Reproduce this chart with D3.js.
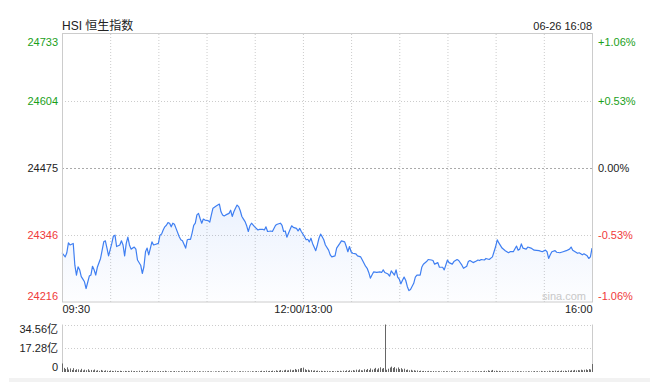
<!DOCTYPE html>
<html>
<head>
<meta charset="utf-8">
<script src="https://cdn.jsdelivr.net/npm/d3@7"></script>
<style>
  body { margin: 0; background: #fff; }
  svg { display: block; font-family: "Liberation Sans", Arial, "Noto Sans CJK SC", sans-serif; }
</style>
</head>
<body>
<svg id="chart" width="653" height="382"></svg>
<script>
// --- data ---
const title = 'HSI 恒生指数';
const stamp = '06-26 16:08';
const prevClose = 24475;
const priceTicks = [24733, 24604, 24475, 24346, 24216];
const pctTicks = ['+1.06%', '+0.53%', '0.00%', '-0.53%', '-1.06%'];
const timeTicks = [0, 150, 330];
const timeLabels = ['09:30', '12:00/13:00', '16:00'];
const gridMinutes = [30, 60, 90, 120, 150, 180, 210, 240, 270, 300];
const volTicks = [34.56, 17.28, 0];
const volTickLabels = ['34.56亿', '17.28亿', '0'];

// trading minute since 09:30 (lunch break removed) and index level
const minutes = [0, 2, 3, 4, 5, 7, 8, 9, 10, 11, 12, 13, 14, 15, 17, 18, 19, 20, 21, 22,
  24, 25, 26, 27, 28, 29, 31, 32, 33, 34, 36, 37, 38, 39, 40, 41, 42, 43, 45, 46,
  47, 49, 50, 51, 52, 53, 54, 56, 57, 58, 60, 61, 62, 63, 64, 65, 66, 67, 68, 69,
  70, 71, 73, 74, 75, 77, 78, 79, 80, 81, 82, 83, 84, 85, 86, 87, 88, 89, 91, 92,
  93, 94, 96, 97, 98, 99, 100, 101, 102, 104, 105, 106, 107, 108, 109, 110, 111, 112, 113, 114,
  115, 116, 117, 118, 120, 122, 123, 125, 126, 127, 128, 130, 131, 133, 134, 136, 137, 138, 139, 140,
  142, 143, 144, 146, 147, 148, 149, 151, 152, 153, 154, 155, 156, 158, 159, 160, 161, 162, 163, 164,
  166, 167, 168, 170, 171, 173, 174, 176, 177, 178, 179, 180, 181, 183, 184, 186, 187, 189, 190, 191,
  192, 193, 194, 196, 198, 199, 200, 201, 203, 204, 205, 207, 208, 209, 210, 211, 212, 213, 214, 215,
  216, 217, 219, 220, 221, 223, 224, 225, 227, 228, 230, 231, 232, 234, 235, 237, 238, 240, 241, 243,
  244, 246, 247, 249, 250, 252, 253, 254, 256, 258, 259, 260, 261, 263, 264, 266, 268, 269, 270, 271,
  272, 274, 276, 278, 279, 281, 283, 284, 285, 286, 287, 289, 290, 292, 294, 297, 299, 301, 302, 303,
  304, 305, 307, 308, 310, 312, 314, 316, 317, 318, 319, 321, 322, 324, 325, 327, 328, 329, 330];
const prices = [24311, 24303, 24311, 24330, 24326, 24329, 24287, 24268, 24284, 24278, 24265, 24260, 24255, 24242, 24266, 24268, 24285, 24278, 24268, 24283,
  24300, 24316, 24332, 24334, 24320, 24305, 24329, 24343, 24345, 24323, 24326, 24334, 24326, 24305, 24329, 24341, 24326, 24318, 24322, 24318,
  24297, 24287, 24271, 24284, 24313, 24320, 24307, 24332, 24326, 24327, 24329, 24345, 24347, 24355, 24361, 24364, 24369, 24368, 24361, 24368,
  24366, 24358, 24342, 24336, 24334, 24320, 24336, 24337, 24337, 24349, 24364, 24368, 24384, 24387, 24377, 24368, 24376, 24374, 24373, 24370,
  24384, 24397, 24401, 24403, 24405, 24390, 24384, 24382, 24384, 24387, 24393, 24381, 24390, 24397, 24403, 24400, 24392, 24381, 24376, 24371,
  24363, 24352, 24363, 24368, 24361, 24355, 24356, 24356, 24355, 24361, 24352, 24353, 24352, 24364, 24366, 24368, 24364, 24352, 24353, 24341,
  24356, 24363, 24360, 24358, 24353, 24358, 24352, 24342, 24336, 24337, 24332, 24339, 24329, 24315, 24326, 24339, 24347, 24342, 24336, 24326,
  24316, 24307, 24303, 24305, 24320, 24329, 24334, 24332, 24323, 24313, 24323, 24313, 24310, 24309, 24305, 24303, 24297, 24285, 24281, 24273,
  24262, 24268, 24274, 24273, 24274, 24273, 24278, 24273, 24270, 24266, 24276, 24268, 24278, 24264, 24260, 24251, 24258, 24264, 24258, 24246,
  24238, 24240, 24252, 24264, 24268, 24268, 24283, 24289, 24294, 24298, 24297, 24296, 24289, 24292, 24283, 24283, 24278, 24297, 24292, 24289,
  24294, 24298, 24296, 24287, 24281, 24285, 24294, 24296, 24292, 24295, 24297, 24296, 24298, 24297, 24300, 24298, 24303, 24313, 24323, 24336,
  24330, 24320, 24315, 24311, 24313, 24313, 24324, 24316, 24318, 24328, 24320, 24318, 24322, 24320, 24316, 24315, 24313, 24316, 24313, 24300,
  24307, 24313, 24315, 24312, 24311, 24313, 24315, 24318, 24322, 24316, 24314, 24310, 24311, 24307, 24309, 24305, 24300, 24303, 24320];

// per-minute turnover, 亿
const volumes = [
  6.2, 3.0, 2.2, 3.4, 1.8, 2.6, 1.5, 2.8, 1.4, 2.0,
  1.9, 1.2, 2.3, 1.1, 1.7, 1.3, 2.0, 1.0, 1.5, 1.2,
  1.8, 0.9, 1.3, 0.8, 1.5, 1.0, 0.8, 1.2, 0.9, 0.7,
  1.1, 0.8, 0.6, 1.0, 0.7, 0.6, 0.9, 0.7, 0.5, 0.8,
  0.6, 0.8, 0.5, 1.0, 0.5, 0.7, 0.6, 0.4, 0.9, 0.5,
  0.7, 0.5, 0.6, 0.9, 0.4, 0.6, 0.8, 0.5, 0.6, 0.4,
  0.6, 0.7, 0.4, 0.6, 0.9, 0.5, 0.4, 0.6, 0.5, 0.4,
  0.7, 0.5, 0.6, 0.4, 0.5, 0.4, 0.8, 0.5, 0.4, 0.6,
  0.4, 0.5, 0.7, 0.4, 0.5, 0.6, 0.4, 0.3, 0.5, 0.5,
  0.4, 0.6, 0.4, 0.5, 0.3, 0.5, 0.4, 0.6, 0.4, 0.5,
  0.5, 0.4, 0.4, 0.6, 0.3, 0.5, 0.4, 0.5, 0.4, 0.3,
  0.5, 0.6, 0.4, 0.4, 0.5, 0.3, 0.5, 0.4, 0.6, 0.4,
  0.5, 0.7, 0.5, 0.6, 0.9, 0.5, 0.7, 1.0, 0.6, 0.8,
  0.7, 1.0, 0.7, 1.2, 0.8, 1.0, 1.4, 0.9, 1.2, 1.6,
  1.1, 1.3, 1.8, 1.2, 1.5, 2.2, 1.6, 2.0, 2.6, 2.9,
  3.2, 2.0, 1.4, 1.7, 1.1, 1.4, 0.9, 1.2, 0.8, 1.0,
  0.7, 0.9, 0.6, 0.8, 0.5, 0.8, 0.6, 0.5, 0.7, 0.6,
  0.5, 0.8, 0.6, 0.9, 0.5, 1.0, 0.7, 1.2, 0.8, 1.3,
  0.9, 1.4, 1.0, 1.7, 1.2, 1.9, 1.3, 1.1, 2.0, 1.5,
  2.2, 1.4, 2.6, 1.7, 2.3, 3.0, 1.8, 2.7, 3.4, 2.4,
  2.9, 34.56, 1.6, 2.4, 3.2, 3.9, 2.9, 3.6, 2.5, 3.3,
  2.2, 2.8, 1.9, 2.4, 1.5, 1.8, 1.2, 1.6, 1.0, 1.3,
  0.9, 1.1, 0.7, 1.0, 0.6, 0.8, 0.7, 0.5, 0.8, 0.6,
  0.5, 0.7, 0.5, 0.4, 0.6, 0.5, 0.4, 0.6, 0.4, 0.6,
  0.5, 0.4, 0.6, 0.4, 0.7, 0.5, 0.4, 0.6, 0.4, 0.3,
  0.5, 0.4, 0.6, 0.4, 0.3, 0.5, 0.4, 0.6, 0.4, 0.7,
  0.5, 0.6, 0.4, 0.9, 0.6, 1.2, 0.8, 1.0, 1.5, 0.8,
  1.0, 0.6, 0.8, 0.5, 0.7, 0.4, 0.6, 0.4, 0.5, 0.4,
  0.6, 0.4, 0.5, 0.7, 0.4, 0.6, 0.4, 0.5, 0.3, 0.4,
  0.6, 0.4, 0.5, 0.4, 0.7, 0.4, 0.6, 0.4, 0.8, 0.5,
  0.7, 0.4, 0.6, 0.9, 0.5, 0.8, 0.6, 1.0, 0.7, 0.9,
  0.6, 1.1, 0.8, 1.0, 0.7, 1.2, 0.9, 1.3, 1.0, 1.5,
  1.1, 1.4, 1.2, 1.7, 1.3, 1.6, 1.9, 1.4, 2.1, 1.8,
  5.8];

const UP = '#1aa01a', DOWN = '#f03a3a', FLAT = '#222';
const colorFor = v => v > prevClose ? UP : (v < prevClose ? DOWN : FLAT);

const svg = d3.select('#chart');

const x = d3.scaleLinear().domain([0, 330]).range([62, 592]);
const y = d3.scaleLinear().domain([24216, 24733]).range([302, 34]);
const vy = d3.scaleLinear().domain([0, 34.56]).range([372, 324.5]);

// bottom grey strip
svg.append('rect').attr('x', 9).attr('y', 378).attr('width', 641).attr('height', 4).attr('fill', '#f2f2f2');

// title + timestamp
svg.append('text').attr('x', 62).attr('y', 30).attr('font-size', 12).attr('fill', '#222').text(title);
svg.append('text').attr('x', 592).attr('y', 30).attr('text-anchor', 'end').attr('font-size', 11).attr('fill', '#222').text(stamp);

// vertical grid
svg.append('g').selectAll('line').data(gridMinutes).join('line')
    .attr('x1', d => x(d) + 0.5).attr('x2', d => x(d) + 0.5)
    .attr('y1', y.range()[1]).attr('y2', y.range()[0])
    .attr('stroke', '#ccc').attr('stroke-dasharray', '1,2');

// horizontal grid (inner ticks)
svg.append('g').selectAll('line').data(priceTicks.slice(1, -1)).join('line')
    .attr('x1', 62).attr('x2', 592)
    .attr('y1', d => Math.round(y(d)) + 0.5).attr('y2', d => Math.round(y(d)) + 0.5)
    .attr('stroke', d => d === prevClose ? '#aaa' : '#ccc')
    .attr('stroke-dasharray', d => d === prevClose ? '2,2' : '1,2');

// area + line
const gradient = svg.append('defs').append('linearGradient')
    .attr('id', 'fade').attr('x1', 0).attr('x2', 0).attr('y1', 0).attr('y2', 1);
gradient.append('stop').attr('offset', '0%').attr('stop-color', '#3f7ff2').attr('stop-opacity', 0.10);
gradient.append('stop').attr('offset', '100%').attr('stop-color', '#3f7ff2').attr('stop-opacity', 0.01);

const series = minutes.map((m, i) => ({ m, p: prices[i] }));

svg.append('path').datum(series)
    .attr('fill', 'url(#fade)')
    .attr('d', d3.area().x(d => x(d.m)).y0(y.range()[0]).y1(d => y(d.p)));

svg.append('path').datum(series)
    .attr('fill', 'none').attr('stroke', '#3f7ff2').attr('stroke-width', 1.2)
    .attr('stroke-linejoin', 'round')
    .attr('d', d3.line().x(d => x(d.m)).y(d => y(d.p)));

// frame
svg.append('rect').attr('x', 62.5).attr('y', 33.5).attr('width', 530).attr('height', 268.5)
    .attr('fill', 'none').attr('stroke', '#ccc');

// watermark
svg.append('text').attr('x', 586).attr('y', 300).attr('text-anchor', 'end')
    .attr('font-size', 11).attr('fill', '#c8c8c8').text('sina.com');

// left price axis
const leftAxis = svg.append('g').attr('transform', 'translate(62,0)')
    .call(d3.axisLeft(y).tickValues(priceTicks).tickSize(0).tickPadding(4).tickFormat(d3.format('d')));
leftAxis.select('.domain').remove();

// right percent axis
const rightAxis = svg.append('g').attr('transform', 'translate(592,0)')
    .call(d3.axisRight(y).tickValues(priceTicks).tickSize(0).tickPadding(6)
        .tickFormat((d, i) => pctTicks[i]));
rightAxis.select('.domain').remove();

[leftAxis, rightAxis].forEach(g => {
    g.selectAll('text')
        .attr('font-size', 11)
        .attr('font-family', '"Liberation Sans", Arial, sans-serif')
        .attr('fill', d => colorFor(d))
        .attr('dy', (d, i) => i === 0 ? '1.05em' : (i === priceTicks.length - 1 ? '-0.2em' : '0.32em'));
});

// time axis
const timeAxis = svg.append('g').attr('transform', 'translate(0,305)')
    .call(d3.axisBottom(x).tickValues(timeTicks).tickSize(0).tickPadding(0)
        .tickFormat((d, i) => timeLabels[i]));
timeAxis.select('.domain').remove();
timeAxis.selectAll('text')
    .attr('font-size', 11)
    .attr('font-family', '"Liberation Sans", Arial, sans-serif')
    .attr('fill', '#222')
    .attr('text-anchor', (d, i) => i === 0 ? 'start' : (i === timeTicks.length - 1 ? 'end' : 'middle'));

// volume panel
svg.append('g').selectAll('line').data(volTicks.slice(0, -1)).join('line')
    .attr('x1', 62).attr('x2', 592)
    .attr('y1', d => Math.round(vy(d)) + 0.5).attr('y2', d => Math.round(vy(d)) + 0.5)
    .attr('stroke', '#ccc').attr('stroke-dasharray', '1,2');

svg.append('line').attr('x1', 62.5).attr('x2', 62.5).attr('y1', vy(34.56)).attr('y2', vy(0))
    .attr('stroke', '#ccc');
svg.append('line').attr('x1', 592.5).attr('x2', 592.5).attr('y1', vy(34.56)).attr('y2', vy(0))
    .attr('stroke', '#ccc');

svg.append('g').selectAll('line').data(volumes).join('line')
    .attr('x1', (d, i) => Math.round(x(i)) + 0.5).attr('x2', (d, i) => Math.round(x(i)) + 0.5)
    .attr('y1', vy(0)).attr('y2', d => vy(d))
    .attr('stroke', '#666').attr('stroke-width', 1);

const volAxis = svg.append('g').attr('transform', 'translate(62,0)')
    .call(d3.axisLeft(vy).tickValues(volTicks).tickSize(0).tickPadding(4)
        .tickFormat((d, i) => volTickLabels[i]));
volAxis.select('.domain').remove();
volAxis.selectAll('text')
    .attr('font-size', 11)
    .attr('font-family', '"Liberation Sans", Arial, "Noto Sans CJK SC", sans-serif')
    .attr('fill', '#222')
    .attr('dy', (d, i) => i === 0 ? '0.75em' : (i === volTicks.length - 1 ? '-0.1em' : '0.32em'));
</script>
</body>
</html>
